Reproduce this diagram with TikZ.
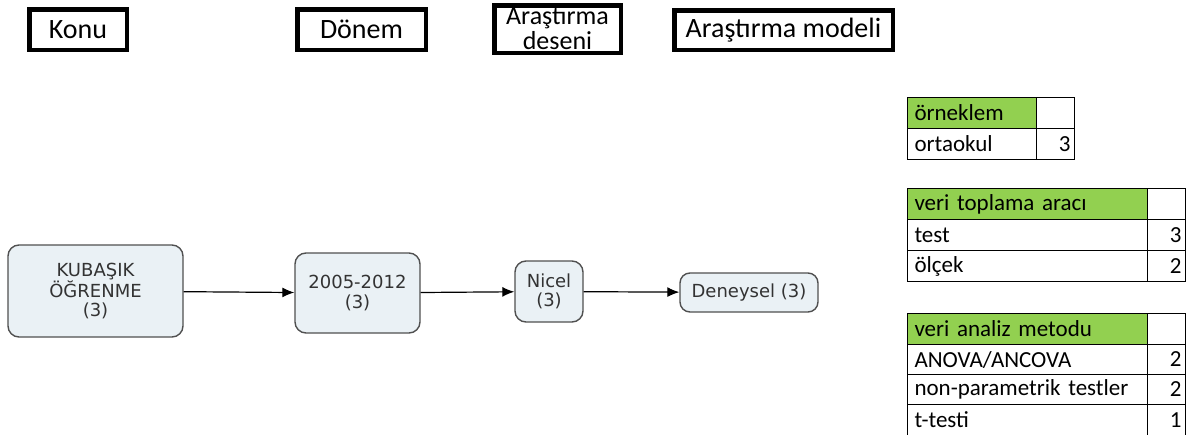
\documentclass[tikz,border=0pt]{standalone}
\usepackage{fontspec}
\setmainfont{Carlito}
\newfontfamily\flowfont{DejaVu Sans}
\usepackage{tikz}
\usetikzlibrary{arrows.meta}
\definecolor{hgreen}{HTML}{92D050}
\definecolor{flowfill}{HTML}{EAF1F5}
\definecolor{flowline}{HTML}{505050}
\definecolor{flowtext}{HTML}{333333}
\tikzset{
  hdr/.style={draw, line width=4.5pt, inner sep=0pt, align=center,
    font=\fontsize{28}{24}\selectfont},
  flow/.style={draw=flowline, fill=flowfill, line width=1.4pt, rounded corners=11pt,
    inner sep=0pt, align=center, text=flowtext, font=\flowfont\fontsize{18}{19.5}\selectfont},
  link/.style={-{Latex[length=12pt,width=10pt]}, line width=1.2pt},
  cell/.style={draw, line width=1pt, anchor=north west, inner ysep=0pt,
    font=\fontsize{23}{23}\selectfont},
  lcell/.style={cell, inner xsep=7pt, text width=#1-14pt, align=left},
  ncell/.style={cell, inner xsep=4pt, text width=#1-8pt, align=right}
}

\begin{document}
\begin{tikzpicture}[x=1pt,y=-1pt]
        \useasboundingbox (0,0) rectangle (1194,434);

% column heads
{\node[hdr, minimum width=97.5pt, minimum height=40.5pt] (konu) at (78,29.5) {Konu};}
{\node[hdr, minimum width=128.5pt, minimum height=40.5pt] (donem) at (361.5,29.5) {Dönem};}
{\node[hdr, minimum width=126.5pt, minimum height=47.5pt, font=\fontsize{26}{24.5}\selectfont] (desen) at (557.5,29) {Araştırma\\deseni};}
{\node[hdr, minimum width=218.5pt, minimum height=39.5pt] (model) at (783.5,30) {Araştırma modeli};}

% flow
{\node[flow, minimum width=175pt, minimum height=92pt] (kubasik) at (95.5,291) {KUBAŞIK\\ÖĞRENME\\(3)};}
{\node[flow, minimum width=125pt, minimum height=80pt] (yil) at (357.5,293) {2005-2012\\(3)};}
{\node[flow, minimum width=68pt, minimum height=61pt] (nicel) at (549,291.5) {Nicel\\(3)};}
{\node[flow, minimum width=138pt, minimum height=39pt, rounded corners=10pt] (deneysel) at (749,292.5) {Deneysel (3)};}

\draw[link] (kubasik) -- (yil);
\draw[link] (yil) -- (nicel);
\draw[link] (nicel) -- (deneysel);

% tables
{\node[lcell=129pt, minimum height=31pt, fill=hgreen] (orn) at (907,97) {örneklem};}
{\node[ncell=38pt, minimum height=31pt] (orn-n) at (1036,97) {};}
{\node[lcell=129pt, minimum height=31pt] (ortaokul) at (907,128) {ortaokul};}
{\node[ncell=38pt, minimum height=31pt] (ortaokul-n) at (1036,128) {3};}

{\node[lcell=240pt, minimum height=31pt, fill=hgreen] (arac) at (907,188) {veri toplama aracı};}
{\node[ncell=38pt, minimum height=31pt] (arac-n) at (1147,188) {};}
{\node[lcell=240pt, minimum height=31pt] (test) at (907,219) {test};}
{\node[ncell=38pt, minimum height=31pt] (test-n) at (1147,219) {3};}
{\node[lcell=240pt, minimum height=31pt] (olcek) at (907,250) {ölçek};}
{\node[ncell=38pt, minimum height=31pt] (olcek-n) at (1147,250) {2};}

{\node[lcell=240pt, minimum height=31pt, fill=hgreen] (analiz) at (907,313) {veri analiz metodu};}
{\node[ncell=38pt, minimum height=31pt] (analiz-n) at (1147,313) {};}
{\node[lcell=240pt, minimum height=30pt] (anova) at (907,344) {ANOVA/ANCOVA};}
{\node[ncell=38pt, minimum height=30pt] (anova-n) at (1147,344) {2};}
{\node[lcell=240pt, minimum height=30pt] (nonpar) at (907,374) {non-parametrik testler};}
{\node[ncell=38pt, minimum height=30pt] (nonpar-n) at (1147,374) {2};}
{\node[lcell=240pt, minimum height=31pt] (ttest) at (907,404) {t-testi};}
{\node[ncell=38pt, minimum height=31pt] (ttest-n) at (1147,404) {1};}

\end{tikzpicture}
\end{document}
